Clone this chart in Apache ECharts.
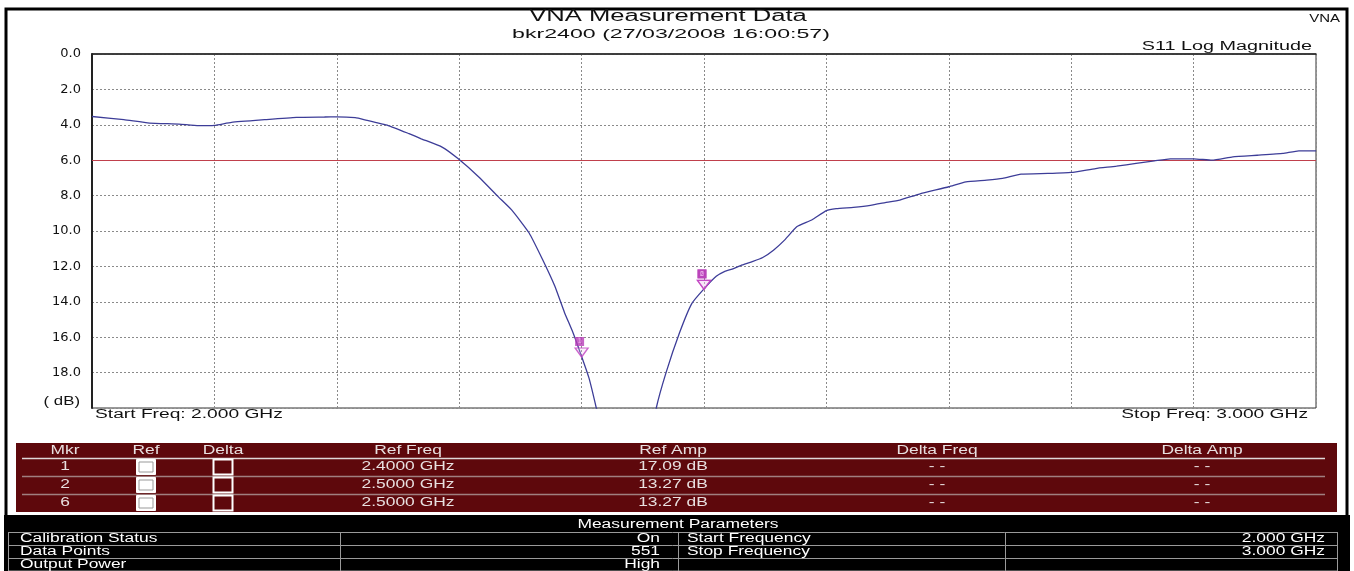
<!DOCTYPE html>
<html>
<head>
<meta charset="utf-8">
<script src="https://cdn.jsdelivr.net/npm/echarts@6/dist/echarts.min.js"></script>
<style>html,body{margin:0;padding:0;background:#fff;}#c{width:1354px;height:571px;}</style>
</head>
<body>
<div id="c"></div>
<script>
// ---- data ----
const freqGHz = [2.000,2.026,2.047,2.071,2.087,2.100,2.114,2.141,2.167,2.190,2.200,2.215,2.223,2.242,2.259,2.269,2.286,2.299,2.316,2.332,2.343,2.357,2.368,2.378,2.386,2.393,2.400,2.406,2.412,2.420,2.430,2.437,2.445,2.453,2.461,2.469,2.480,2.490,2.500,2.510,2.517,2.523,2.530,2.540,2.548,2.557,2.566,2.576,2.588,2.600,2.608,2.622,2.636,2.648,2.660,2.676,2.700,2.714,2.731,2.744,2.759,2.781,2.800,2.820,2.837,2.853,2.868,2.881,2.900,2.915,2.932,2.952,2.973,2.986,3.000];
const s11dB = [3.53,3.71,3.90,3.96,4.05,4.03,3.86,3.71,3.58,3.56,3.55,3.60,3.72,4.04,4.50,4.79,5.26,5.91,6.95,8.07,8.82,10.1,11.6,13.1,14.6,15.75,17.09,18.3,20.0,22.5,26.0,28.0,26.0,23.0,20.0,18.0,15.75,14.1,13.27,12.56,12.28,12.15,11.95,11.72,11.5,11.07,10.5,9.75,9.38,8.85,8.74,8.66,8.55,8.4,8.25,7.91,7.5,7.22,7.13,7.03,6.79,6.75,6.69,6.47,6.34,6.18,6.04,5.92,5.92,6.0,5.81,5.72,5.62,5.47,5.47];
const limitLine = 6.0;
const yTicks = ['0.0','2.0','4.0','6.0','8.0','10.0','12.0','14.0','16.0','18.0'];
const mkrIds = ['1','2','6'];
const mkrFreq = [2.4, 2.5, 2.5];
const mkrAmp = [17.09, 13.27, 13.27];
const mkrHeaders = ['Mkr','Ref','Delta','Ref Freq','Ref Amp','Delta Freq','Delta Amp'];
const paramsLeft = [['Calibration Status','On'],['Data Points','551'],['Output Power','High']];
const paramsRight = [['Start Frequency','2.000 GHz'],['Stop Frequency','3.000 GHz'],['','']];
const titleText = 'VNA Measurement Data';
const subText = 'bkr2400 (27/03/2008 16:00:57)';

// ---- styling ----
const FONT = '"Liberation Sans", Arial, sans-serif';
const SX = 1.45;
function txt(text, x, y, size, color, align, sx) {
  return { type: 'text', x: x, y: y, scaleX: sx || SX, silent: true, z: 100,
    style: { text: text, x: 0, y: 0, fill: color || '#111', font: size + 'px ' + FONT,
      textAlign: align || 'left', textVerticalAlign: 'middle', align: align || 'left', verticalAlign: 'middle' } };
}
function rect(x, y, w, h, fill, stroke, lw, z) {
  return { type: 'rect', silent: true, z: z || 1, shape: { x: x, y: y, width: w, height: h },
    style: { fill: fill || 'none', stroke: stroke || null, lineWidth: lw || 0 } };
}
function line(x1, y1, x2, y2, color, lw, z) {
  return { type: 'line', silent: true, z: z || 2, shape: { x1: x1, y1: y1, x2: x2, y2: y2 },
    style: { stroke: color, lineWidth: lw || 1 } };
}

const g = [];
// outer frame
g.push(rect(6, 9, 1341, 600, 'none', '#000', 3, 1));
// title texts
g.push(txt(titleText, 668, 17, 16, '#111', 'center', 1.6));
g.push(txt(subText, 671, 34, 13, '#111', 'center', 1.78));
g.push(txt('VNA', 1340, 19, 10, '#111', 'right', 1.5));
g.push(txt('S11 Log Magnitude', 1312, 47, 12, '#111', 'right', 1.65));
g.push(txt('( dB)', 80, 402, 12, '#111', 'right', 1.4));
g.push(txt('Start Freq: 2.000 GHz', 95, 415, 12, '#111', 'left', 1.6));
g.push(txt('Stop Freq: 3.000 GHz', 1308, 415, 12, '#111', 'right', 1.6));

// marker table
const RED = '#5e080c';
g.push(rect(16, 443, 1321, 69, RED, null, 0, 3));
const colX = [65, 146, 223, 408, 673, 937, 1202];
mkrHeaders.forEach((h, i) => g.push(txt(h, colX[i], 451, 12, '#e8e0e0', 'center', 1.45)));
g.push(line(22, 458.5, 1325, 458.5, '#e0d8d8', 1.5, 4));
const rowY = [467, 485, 503];
g.push(line(22, 476.5, 1325, 476.5, '#a07f80', 1.5, 4));
g.push(line(22, 494.5, 1325, 494.5, '#a07f80', 1.5, 4));
mkrIds.forEach((id, r) => {
  const y = rowY[r];
  g.push(txt(id, colX[0], y, 12, '#e8e0e0', 'center', 1.45));
  g.push(rect(colX[1] - 9.5, y - 7.5, 19, 15, '#fff', '#fff', 1, 5));
  g.push(rect(colX[1] - 7, y - 5, 14, 10, '#fff', '#999', 1, 6));
  g.push(rect(colX[2] - 9.5, y - 7.5, 19, 15, RED, '#fff', 2, 5));
  g.push(txt(mkrFreq[r].toFixed(4) + ' GHz', colX[3], y, 12, '#e8e0e0', 'center', 1.45));
  g.push(txt(mkrAmp[r].toFixed(2) + ' dB', colX[4], y, 12, '#e8e0e0', 'center', 1.45));
  g.push(txt('- -', colX[5], y, 12, '#e8e0e0', 'center', 1.45));
  g.push(txt('- -', colX[6], y, 12, '#e8e0e0', 'center', 1.45));
});

// measurement parameters block
g.push(rect(4, 515, 1346, 60, '#000', null, 0, 3));
g.push(txt('Measurement Parameters', 678, 525, 12, '#fff', 'center', 1.45));
const pRowTop = [532, 545, 558];
const GR = '#9a9a9a';
pRowTop.forEach((yt, r) => {
  g.push(line(8, yt + 0.5, 1337, yt + 0.5, GR, 1, 4));
  g.push(txt(paramsLeft[r][0], 20, yt + 7, 12, '#fff', 'left', 1.45));
  g.push(txt(paramsLeft[r][1], 660, yt + 7, 12, '#fff', 'right', 1.45));
  g.push(txt(paramsRight[r][0], 687, yt + 7, 12, '#fff', 'left', 1.45));
  g.push(txt(paramsRight[r][1], 1325, yt + 7, 12, '#fff', 'right', 1.45));
});
g.push(line(8, 571, 1337, 571, GR, 1, 4));
[8.5, 340.5, 678.5, 1005.5, 1337.5].forEach(x => g.push(line(x, 532, x, 571, GR, 1, 4)));

const chart = echarts.init(document.getElementById('c'), null, { renderer: 'canvas' });
chart.setOption({
  backgroundColor: '#fff',
  animation: false,
  grid: { left: 92, top: 54, width: 1224, height: 354, show: true, borderColor: '#333', borderWidth: 1, backgroundColor: 'transparent' },
  xAxis: {
    type: 'value', min: 2.0, max: 3.0, interval: 0.1,
    axisLine: { show: true, lineStyle: { color: '#222', width: 1.5 } },
    axisTick: { show: false }, axisLabel: { show: false },
    splitLine: { show: true, lineStyle: { color: '#8a8a8a', type: [2, 2], width: 1 } }
  },
  yAxis: {
    type: 'value', inverse: true, min: 0, max: 20, interval: 2,
    axisLine: { show: true, lineStyle: { color: '#222', width: 2 } },
    axisTick: { show: false },
    axisLabel: { margin: 11, color: '#111', fontFamily: '"DejaVu Sans", sans-serif', fontSize: 13,
      formatter: (v) => { const i = Math.round(v / 2); return i < yTicks.length ? yTicks[i] : ''; } },
    splitLine: { show: true, lineStyle: { color: '#8a8a8a', type: [2, 2], width: 1 } }
  },
  series: [
    {
      type: 'line', data: freqGHz.map((f, i) => [f, s11dB[i]]), showSymbol: false, symbol: 'none',
      smooth: 0.15,
      lineStyle: { color: '#3d3d98', width: 1.3 }, clip: true, z: 5,
      markLine: { silent: true, symbol: 'none', label: { show: false },
        lineStyle: { color: '#c0404c', type: 'solid', width: 1 }, data: [{ yAxis: limitLine }] }
    },
    {
      type: 'scatter', z: 6,
      data: mkrIds.map((id, i) => [mkrFreq[i], mkrAmp[i]]).reverse(),
      symbol: 'triangle', symbolRotate: 180, symbolSize: [13, 9], symbolOffset: [0, -4],
      itemStyle: { color: 'rgba(240,200,240,0.35)', borderColor: '#c040c0', borderWidth: 1.3 }
    },
    {
      type: 'scatter', z: 7,
      data: mkrIds.map((id, i) => ({ value: [mkrFreq[i], mkrAmp[i]], name: id })).reverse(),
      symbol: 'rect', symbolSize: [9, 9], symbolOffset: [-2, -15],
      itemStyle: { color: '#b83cb8' },
      label: { show: true, position: 'inside', formatter: (p) => p.name,
        color: '#f0c0f0', fontSize: 7, fontFamily: FONT }
    }
  ],
  graphic: { elements: g }
});
</script>
</body>
</html>
